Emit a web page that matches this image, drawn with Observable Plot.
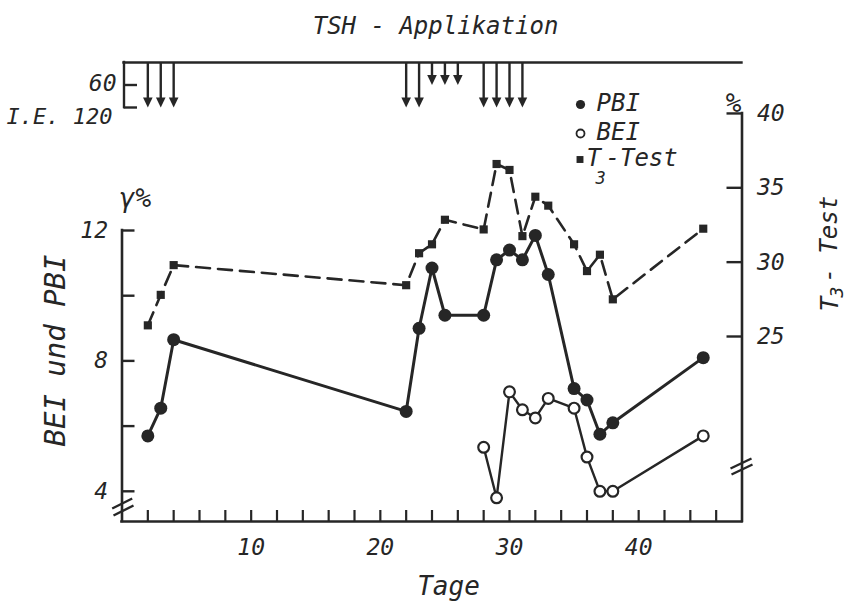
<!DOCTYPE html>
<html><head><meta charset="utf-8">
<script src="https://cdn.jsdelivr.net/npm/d3@7"></script>
<script src="https://cdn.jsdelivr.net/npm/@observablehq/plot@0.6"></script>
<style>
html,body{margin:0;padding:0;background:#fff;}
#chart svg{display:block}
</style></head><body><div id="chart"></div>
<script>
// ---- data ----
const pbiDays   = [2,3,4,22,23,24,25,28,29,30,31,32,33,35,36,37,38,45];
const pbiValues = [5.7,6.55,8.65,6.45,9.0,10.85,9.4,9.4,11.1,11.4,11.1,11.85,10.65,7.15,6.8,5.75,6.1,8.1];
const beiDays   = [28,29,30,31,32,33,35,36,37,38,45];
const beiValues = [5.35,3.8,7.05,6.5,6.25,6.85,6.55,5.05,4.0,4.0,5.7];
const t3Days    = [2,3,4,22,23,24,25,28,29,30,31,32,33,35,36,37,38,45];
const t3Values  = [25.75,27.8,29.8,28.45,30.6,31.2,32.85,32.2,36.6,36.2,31.75,34.4,33.8,31.2,29.4,30.5,27.5,32.25];
const tshDays   = [2,3,4,22,23,24,25,26,28,29,30,31];
const tshDoses  = [120,120,120,120,120,60,60,60,120,120,120,120];
const doseTicks = [60,120];
const leftTicks = [4,6,8,10,12];
const leftLabels = [4,8,12];
const t3Ticks = [25,30,35,40];
const dayTicks = d3.range(2,47,2);
const dayLabels = [10,20,30,40];
const legendLabels = ["PBI","BEI"];

// ---- geometry helpers (layout of the original figure) ----
const PX_PER_DAY = 620/48, PX_PER_UNIT = 32.6;
const xOfPx = p => (p - 121.5)/PX_PER_DAY;
const yOfPx = p => 12 - (p - 230)/PX_PER_UNIT;
const yBottom = yOfPx(521);
const t3ToLeft = v => yOfPx(336 - (v - 25)*14.87);       // right axis (T3 %) in left-axis units
const leftToT3 = u => 25 + (336 - (230 + (12-u)*PX_PER_UNIT))/14.87;
const doseToY = d => yOfPx(62 + d*0.375);                  // TSH dose bracket

const INK = "#262626";
const FONT = "'DejaVu Sans Mono', monospace";
const T = {fontFamily: FONT, fontStyle: "italic", fill: INK};

const pbi = pbiDays.map((d,i)=>({day:d, v:pbiValues[i]}));
const bei = beiDays.map((d,i)=>({day:d, v:beiValues[i]}));
const t3  = t3Days.map((d,i)=>({day:d, v:t3Values[i]}));
const tsh = tshDays.map((d,i)=>({day:d, dose:tshDoses[i]}));

const arrowHead = {draw(ctx){ ctx.moveTo(0,0); ctx.lineTo(-4.8,-10); ctx.lineTo(4.8,-10); ctx.closePath(); }};
const bx = xOfPx(123.5);

const chart = Plot.plot({
  width: 851, height: 602,
  marginLeft: 121.5, marginRight: 109.5, marginTop: 230, marginBottom: 81,
  x: {domain: [0,48], axis: null},
  y: {domain: [yBottom,12], axis: null},
  style: {background: "#fff", color: INK},
  marks: [
    // axes frame
    Plot.ruleX([0], {y1: yBottom, y2: 12, stroke: INK, strokeWidth: 2.6, strokeLinecap: "square"}),
    Plot.ruleX([48], {y1: yBottom, y2: t3ToLeft(40), stroke: INK, strokeWidth: 2.6, strokeLinecap: "square"}),
    Plot.ruleY([yBottom], {x1: 0, x2: 48, stroke: INK, strokeWidth: 2.6, strokeLinecap: "square"}),
    Plot.ruleY(leftTicks, {x1: 0, x2: xOfPx(134.5), stroke: INK, strokeWidth: 2.4}),
    Plot.ruleY(t3Ticks.map(t3ToLeft), {x1: xOfPx(726.5), x2: 48, stroke: INK, strokeWidth: 2.4}),
    Plot.ruleX(dayTicks, {y1: yBottom, y2: yOfPx(510), stroke: INK, strokeWidth: 2.2}),
    // axis breaks
    Plot.link([[111.7,508,131.7,498],[113,515,133,505]], {x1: d=>xOfPx(d[0]), y1: d=>yOfPx(d[1]), x2: d=>xOfPx(d[2]), y2: d=>yOfPx(d[3]), stroke: INK, strokeWidth: 2.4}),
    Plot.link([[730,468,751,458],[731,474,752,464]], {x1: d=>xOfPx(d[0]), y1: d=>yOfPx(d[1]), x2: d=>xOfPx(d[2]), y2: d=>yOfPx(d[3]), stroke: INK, strokeWidth: 2.4}),
    // tick labels
    Plot.text(leftLabels, {x: 0, y: d=>d, text: d=>String(d), textAnchor: "end", dx: -14, fontSize: 23, ...T}),
    Plot.text(t3Ticks.map(t3ToLeft), {x: 48, y: d=>d, text: d=>String(Math.round(leftToT3(d))), textAnchor: "start", dx: 15, fontSize: 23, ...T}),
    Plot.text(dayLabels, {x: d=>d, y: yBottom, dy: 26, text: d=>String(d), fontSize: 23, ...T}),
    // axis titles
    Plot.text(["Tage"], {x: xOfPx(448), y: yOfPx(586), text: d=>d, fontSize: 26, ...T}),
    Plot.text(["BEI und PBI"], {x: xOfPx(55), y: yOfPx(350), text: d=>d, rotate: -90, fontSize: 29, ...T}),
    Plot.text(["γ%"], {x: xOfPx(135), y: yOfPx(198), text: d=>d, fontSize: 26, ...T}),
    Plot.text(["%"], {x: xOfPx(733), y: yOfPx(103), text: d=>d, fontSize: 26, ...T}),
    Plot.text(["T"], {x: xOfPx(829), y: yOfPx(311), text: d=>d, rotate: -90, textAnchor: "start", fontSize: 25, ...T}),
    Plot.text(["3"], {x: xOfPx(837), y: yOfPx(297), text: d=>d, rotate: -90, textAnchor: "start", fontSize: 18, ...T}),
    Plot.text(["- Test"], {x: xOfPx(829), y: yOfPx(282), text: d=>d, rotate: -90, textAnchor: "start", fontSize: 24, ...T}),
    // TSH application
    Plot.text(["TSH - Applikation"], {x: xOfPx(435), y: yOfPx(26), text: d=>d, fontSize: 24, ...T}),
    Plot.ruleY([doseToY(0)], {x1: bx, x2: 48, stroke: INK, strokeWidth: 2.4, strokeLinecap: "square"}),
    Plot.ruleX([bx], {y1: doseToY(0), y2: doseToY(120), stroke: INK, strokeWidth: 2.4, strokeLinecap: "square"}),
    Plot.ruleY(doseTicks.map(doseToY), {x1: bx, x2: xOfPx(137), stroke: INK, strokeWidth: 2.4}),
    Plot.text([doseTicks[0]], {x: xOfPx(116), y: d=>doseToY(d), dy: -1, text: d=>String(d), textAnchor: "end", fontSize: 23, ...T}),
    Plot.text([doseTicks[1]], {x: xOfPx(112), y: d=>doseToY(d), dy: 9, text: d=>"I.E. " + d, textAnchor: "end", fontSize: 22, ...T}),
    Plot.link(tsh, {x1: "day", x2: "day", y1: doseToY(0), y2: d=>yOfPx(62 + d.dose*0.375 - 8), stroke: INK, strokeWidth: 2.4}),
    Plot.dot(tsh, {x: "day", y: d=>doseToY(d.dose), symbol: arrowHead, fill: INK, stroke: "none"}),
    // legend
    Plot.dot([0], {x: xOfPx(580), y: yOfPx(104), r: 4.6, fill: INK}),
    Plot.dot([0], {x: xOfPx(580), y: yOfPx(133), r: 4, fill: "#fff", stroke: INK, strokeWidth: 1.8}),
    Plot.dot([0], {x: xOfPx(579.5), y: yOfPx(159), r: 3.9, symbol: "square", fill: INK}),
    Plot.text(legendLabels, {x: xOfPx(596), y: (d,i)=> yOfPx(i===0 ? 103 : 132), text: d=>d, textAnchor: "start", fontSize: 24, ...T}),
    Plot.text(["T"], {x: xOfPx(586), y: yOfPx(158), text: d=>d, textAnchor: "start", fontSize: 24, ...T}),
    Plot.text(["3"], {x: xOfPx(595), y: yOfPx(178), text: d=>d, textAnchor: "start", fontSize: 17, ...T}),
    Plot.text(["-Test"], {x: xOfPx(605), y: yOfPx(158), text: d=>d, textAnchor: "start", fontSize: 24, ...T}),
    // data
    Plot.line(t3, {x: "day", y: d=>t3ToLeft(d.v), stroke: INK, strokeWidth: 2.6, strokeDasharray: "14,8"}),
    Plot.line(bei, {x: "day", y: "v", stroke: INK, strokeWidth: 2.4}),
    Plot.line(pbi, {x: "day", y: "v", stroke: INK, strokeWidth: 3}),
    Plot.dot(t3, {x: "day", y: d=>t3ToLeft(d.v), symbol: "square", r: 4.6, fill: INK}),
    Plot.dot(bei, {x: "day", y: "v", r: 5.4, fill: "#fff", stroke: INK, strokeWidth: 2.2}),
    Plot.dot(pbi, {x: "day", y: "v", r: 6.5, fill: INK})
  ]
});
document.getElementById("chart").append(chart);
</script></body></html>
